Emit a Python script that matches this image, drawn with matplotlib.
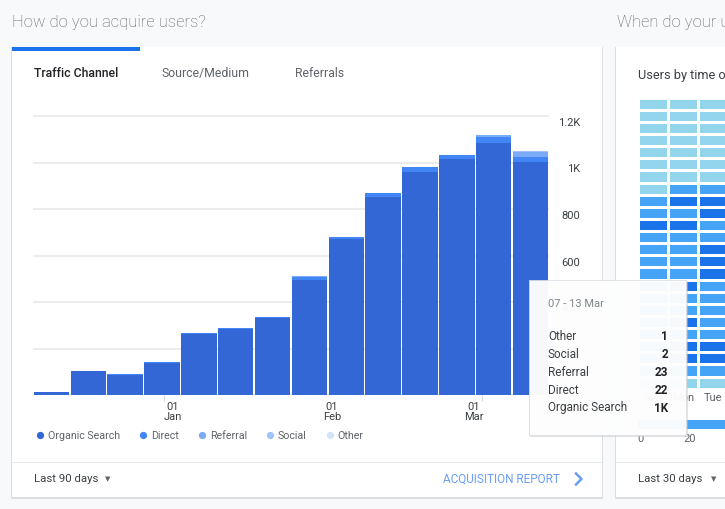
import matplotlib.pyplot as plt
import numpy as np
from matplotlib.patches import Rectangle
from matplotlib.lines import Line2D
from matplotlib.colors import ListedColormap
from matplotlib.transforms import offset_copy

plt.rcParams['font.family'] = ['Roboto', 'DejaVu Sans']

# --- data: weekly users by channel (last 90 days) ---
weeks = ['06 - 12 Dec', '13 - 19 Dec', '20 - 26 Dec', '27 Dec - 02 Jan', '03 - 09 Jan',
         '10 - 16 Jan', '17 - 23 Jan', '24 - 30 Jan', '31 Jan - 06 Feb', '07 - 13 Feb',
         '14 - 20 Feb', '21 - 27 Feb', '28 Feb - 06 Mar', '07 - 13 Mar']
organic = [11, 102, 88, 139, 264, 284, 330, 495, 672, 852, 960, 1015, 1084, 1002]
direct = [1, 3, 2, 3, 4, 4, 5, 14, 8, 15, 20, 17, 26, 22]
referral = [0, 0, 0, 0, 0, 0, 0, 3, 1, 2, 2, 2, 8, 23]
social = [0, 0, 0, 0, 0, 0, 0, 0, 0, 0, 0, 0, 0, 2]
other = [0, 0, 0, 0, 0, 0, 0, 0, 0, 0, 0, 0, 0, 1]
channels = ['Organic Search', 'Direct', 'Referral', 'Social', 'Other']
channel_colors = ['#3367d6', '#4285f4', '#7baaf7', '#a1c2fa', '#d2e3fc']

y_ticks = [0, 200, 400, 600, 800, 1000, 1200]
y_labels = ['', '200', '400', '600', '800', '1K', '1.2K']
month_ticks = [3.05, 7.61, 11.68]       # where the 1st of the month falls
month_label_pos = [3.30, 7.61, 11.46]
month_labels = ['01\nJan', '01\nFeb', '01\nMar']

# --- data: users by time of day (0 light, 1 medium, 2 dark), Sun..Tue visible ---
days = ['Sun', 'Mon', 'Tue']
hour_level = [[0, 0, 0], [0, 0, 0], [0, 0, 0], [0, 0, 0], [0, 0, 0], [0, 0, 0],
              [0, 0, 0], [0, 1, 1], [1, 2, 2], [1, 1, 2], [2, 2, 1], [1, 1, 1],
              [1, 1, 2], [1, 1, 2], [1, 1, 2], [1, 2, 1], [1, 1, 1], [1, 1, 1],
              [1, 2, 1], [1, 1, 1], [1, 2, 2], [1, 2, 2], [1, 1, 1], [0, 0, 0]]
heat_colors = ['#93d5ed', '#45a4f5', '#1a73e8']

W, H = 725, 509
fig = plt.figure(figsize=(7.25, 5.09), dpi=100)
fig.patch.set_facecolor('#f8f9fa')


def fx(x):
    return x / W


def fy(y):
    return 1 - y / H


def box(x0, y0, x1, y1, z=-1, **kw):
    r = Rectangle((fx(x0), fy(y1)), (x1 - x0) / W, (y1 - y0) / H,
                  transform=fig.transFigure, zorder=z, **kw)
    fig.patches.append(r)
    return r


def ftext(x, y, s, z=3, **kw):
    return fig.text(fx(x), fy(y), s, zorder=z, **kw)


# cards
for x0, x1 in [(12, 602), (616, 760)]:
    box(x0 - 1, 47, x1 + 1, 499, facecolor='#dcdee2', edgecolor='none', z=-3)
    box(x0, 47, x1, 497, facecolor='white', edgecolor='none', z=-2)
    box(x0, 461.5, x1, 462.5, facecolor='#e8eaed', edgecolor='none')
box(12, 47, 140, 50.5, facecolor='#1a73e8', edgecolor='none')

# headings and tabs
ftext(12, 22, 'How do you acquire users?', fontsize=12, color='#5f6368',
      fontweight='light', va='center')
ftext(617, 22, 'When do your users visit?', fontsize=12, color='#5f6368',
      fontweight='light', va='center')
ftext(34, 73.5, 'Traffic Channel', fontsize=8.8, color='#202124',
      fontweight='medium', va='center')
ftext(162, 73.5, 'Source/Medium', fontsize=8.8, color='#5f6368', va='center')
ftext(295, 73.5, 'Referrals', fontsize=8.8, color='#5f6368', va='center')
ftext(638, 76, 'Users by time of day', fontsize=9.2, color='#3c4043', va='center')

# footers
ftext(34, 479, 'Last 90 days', fontsize=8.2, color='#3c4043', va='center')
ftext(108, 480, '\u25bc', fontsize=5, color='#5f6368', va='center', ha='center')
ftext(560, 479, 'ACQUISITION REPORT', fontsize=8.5, color='#6a9ef5', va='center',
      ha='right')
fig.lines.append(Line2D([fx(576), fx(581.5), fx(576)], [fy(473.5), fy(479), fy(484.5)],
                        transform=fig.transFigure, color='#6a9ef5', lw=1.8))
ftext(638, 479, 'Last 30 days', fontsize=8.2, color='#3c4043', va='center')
ftext(714, 480, '\u25bc', fontsize=5, color='#5f6368', va='center', ha='center')

# --- stacked bar chart ---
ymax = 1210
ax = fig.add_axes([fx(33), fy(395), 516 / W, ymax * 0.2325 / H])
ax.patch.set_visible(False)
x = np.arange(len(weeks))
bottom = np.zeros(len(weeks))
for vals, name, col in zip([organic, direct, referral, social, other], channels,
                           channel_colors):
    ax.bar(x, vals, width=0.962, bottom=bottom, color=col, label=name, zorder=2)
    bottom += np.array(vals)
ax.set_xlim(-0.5, len(weeks) - 0.5)
ax.set_ylim(0, ymax)
for s in ax.spines.values():
    s.set_visible(False)
ax.set_yticks(y_ticks)
ax.grid(axis='y', color='#e8eaed', lw=1.3, zorder=0)
ax.tick_params(axis='y', length=0, labelleft=False)
# value labels sit just under their grid line, right aligned past the plot
lbl_tr = offset_copy(ax.get_yaxis_transform(), fig=fig, y=-7, units='dots')
for v, s in zip(y_ticks, y_labels):
    ax.text(1.06, v, s, transform=lbl_tr, ha='right', va='center', fontsize=8,
            color='#3c4043')
ax.set_xticks(month_label_pos, month_labels)
ax.set_xticks(month_ticks, minor=True)
ax.tick_params(axis='x', which='major', length=0, pad=5, labelsize=8,
               labelcolor='#3c4043')
ax.tick_params(axis='x', which='minor', length=4, width=1, color='#dadce0')
for lbl in ax.get_xticklabels():
    lbl.set_linespacing(1.05)

handles = [Line2D([], [], marker='o', ls='', color=c, markersize=4.2)
           for c in channel_colors]
fig.legend(handles, channels, loc='center left',
           bbox_to_anchor=(fx(36.5), fy(436)), ncol=5, frameon=False,
           fontsize=7.7, labelcolor='#5f6368', borderpad=0, borderaxespad=0,
           handlelength=0.6, handletextpad=0.45, columnspacing=1.85)

# --- heatmap ---
pitch_x, pitch_y = 30, 12.12
hax = fig.add_axes([fx(637.75), fy(97.75 + 24 * pitch_y), 3 * pitch_x / W,
                    24 * pitch_y / H])
hax.patch.set_visible(False)
hax.pcolormesh(np.array(hour_level), cmap=ListedColormap(heat_colors), vmin=-0.5,
               vmax=2.5, edgecolors='white', linewidth=1.8)
hax.set_xlim(0, 3)
hax.set_ylim(24, 0)
for s in hax.spines.values():
    s.set_visible(False)
hax.set_yticks([])
hax.set_xticks(np.arange(len(days)) + 0.5, days)
hax.tick_params(axis='x', length=0, pad=3.5, labelsize=8, labelcolor='#5f6368')

box(638, 420, 760, 429, facecolor='#45a4f5', edgecolor='none', z=1)
ftext(641, 439, '0', fontsize=8, color='#5f6368', va='center', ha='center')
ftext(690, 439, '20', fontsize=8, color='#5f6368', va='center', ha='center')

# --- tooltip for the last week ---
box(530, 281, 688, 437, facecolor='#c4c6ca', edgecolor='none', alpha=0.5, z=4)
box(529, 280, 686, 435, facecolor='white', edgecolor='#dadce0', lw=0.6,
    alpha=0.94, z=5)
ftext(548, 304, weeks[-1], z=6, fontsize=8, color='#80868b', va='center')
tip_rows = ['Other', 'Social', 'Referral', 'Direct', 'Organic Search']
tip_vals = [other[-1], social[-1], referral[-1], direct[-1], organic[-1]]
for i, (name, v) in enumerate(zip(tip_rows, tip_vals)):
    yy = 336 + 18 * i
    ftext(548, yy, name, z=6, fontsize=8.5, color='#3c4043', va='center')
    vs = f'{round(v / 1000)}K' if v >= 1000 else str(v)
    ftext(668, yy, vs, z=6, fontsize=8.5, color='#202124', fontweight='bold',
          va='center', ha='right')

fig.savefig('out.png', dpi=100, facecolor=fig.get_facecolor())
